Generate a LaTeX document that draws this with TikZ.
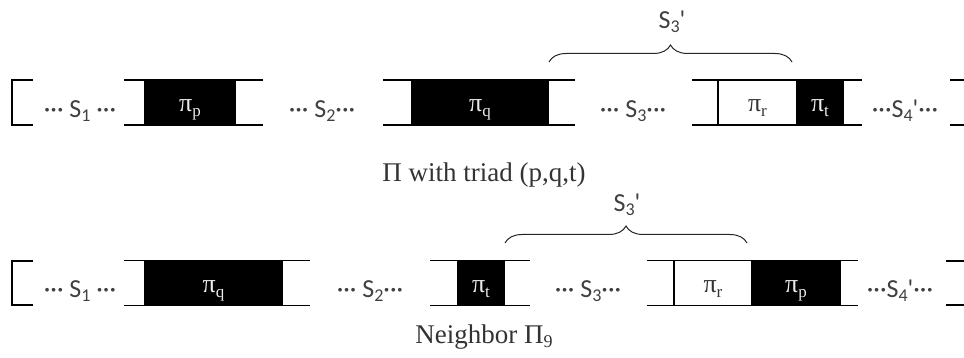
\documentclass[tikz,border=0pt]{standalone}
\usepackage{fontspec}
\setmainfont{Liberation Serif}
\newfontfamily\carl{Carlito}
\usetikzlibrary{decorations.pathreplacing}
\newcommand\pil[1]{π\raisebox{-5pt}{\fontsize{17}{20}\selectfont #1}}
\newcommand\ssub[1]{\raisebox{-4pt}{\fontsize{18}{20}\selectfont #1}}
\tikzset{
 seg/.style={line width=1.2pt, draw=black},
 blk/.style={draw=black, line width=1.2pt, fill=black, inner sep=0pt, outer sep=0pt, minimum height=45pt, anchor=west},
 wht/.style={draw=black, line width=1.2pt, fill=white, inner sep=0pt, outer sep=0pt, minimum height=45pt, anchor=west},
 slab/.style={font=\carl\fontsize{26}{30}\selectfont, text=black!75, anchor=base, inner sep=0pt},
 pilw/.style={font=\fontsize{26}{30}\selectfont, text=black!8, anchor=base, inner sep=0pt},
 pilb/.style={font=\fontsize{26}{30}\selectfont, text=black!80, anchor=base, inner sep=0pt},
 captxt/.style={font=\fontsize{27}{32}\selectfont, text=black!80, anchor=base, inner sep=0pt},
 brc/.style={decorate, decoration={brace, amplitude=17pt}, line width=1pt, draw=black!85},
}
\begin{document}
\begin{tikzpicture}[x=1pt,y=-1pt]
\useasboundingbox (0,0) rectangle (964,358);
% ---------- top row ----------
\node[blk, minimum width=90pt]  (pp) at (145,102.5) {};
\node[blk, minimum width=136pt] (pq) at (412,102.5) {};
\node[wht, minimum width=79pt]  (pr) at (718,102.5) {};
\node[blk, minimum width=46pt]  (pt) at (797,102.5) {};
\draw[seg] (33,80) -- (12,80) -- (12,125) -- (33,125);
\draw[seg] (pp.north west) -- ++(-21,0) (pp.south west) -- ++(-21,0);
\draw[seg] (pp.north east) -- ++(28,0) (pp.south east) -- ++(28,0);
\draw[seg] (pq.north west) -- ++(-29,0) (pq.south west) -- ++(-29,0);
\draw[seg] (pq.north east) -- ++(27,0) (pq.south east) -- ++(27,0);
\draw[seg] (pr.north west) -- ++(-26,0) (pr.south west) -- ++(-26,0);
\draw[seg] (pt.north east) -- ++(19,0) (pt.south east) -- ++(19,0);
\draw[seg] (950,80) -- (964,80) (950,125) -- (964,125);
\node[pilw] (lpp) at (pp.center |- 0,112) {\pil{p}};
\node[pilw] (lpq) at (pq.center |- 0,112) {\pil{q}};
\node[pilb] (lpr) at (pr.center |- 0,112) {\pil{r}};
\node[pilw] (lpt) at (pt.center |- 0,112) {\pil{t}};
\node[slab] (s1a) at (80,118) {··· S\ssub{1} ···};
\node[slab] (s2a) at (322,118) {··· S\ssub{2}···};
\node[slab] (s3a) at (633,118) {··· S\ssub{3}···};
\node[slab] (s4a) at (905,118) {···S\ssub{4}'···};
\coordinate (ba1) at (549,62);
\coordinate (ba2) at (792,62);
\draw[brc] (ba1) -- (ba2);
\node[slab] (s3pa) at (672,29) {S\ssub{3}'};
\node[captxt] (capa) at (484,182) {Π with triad (p,q,t)};
% ---------- bottom row ----------
\node[blk, minimum width=137pt] (qq) at (145,283) {};
\node[blk, minimum width=46pt]  (tt) at (458,283) {};
\node[wht, minimum width=78pt]  (rr) at (674,283) {};
\node[blk, minimum width=88pt]  (pp2) at (752,283) {};
\draw[seg] (33,261) -- (12,261) -- (12,305) -- (33,305);
\draw[seg] (qq.north west) -- ++(-21,0) (qq.south west) -- ++(-21,0);
\draw[seg] (qq.north east) -- ++(28,0) (qq.south east) -- ++(28,0);
\draw[seg] (tt.north west) -- ++(-28,0) (tt.south west) -- ++(-28,0);
\draw[seg] (tt.north east) -- ++(26,0) (tt.south east) -- ++(26,0);
\draw[seg] (rr.north west) -- ++(-27,0) (rr.south west) -- ++(-27,0);
\draw[seg] (pp2.north east) -- ++(18,0) (pp2.south east) -- ++(18,0);
\draw[seg] (946,261) -- (964,261) (946,305) -- (964,305);
\node[pilw] (lqq) at (qq.center |- 0,292) {\pil{q}};
\node[pilw] (ltt) at (tt.center |- 0,292) {\pil{t}};
\node[pilb] (lrr) at (rr.center |- 0,292) {\pil{r}};
\node[pilw] (lpp2) at (pp2.center |- 0,292) {\pil{p}};
\node[slab] (s1b) at (80,297) {··· S\ssub{1} ···};
\node[slab] (s2b) at (370,297) {··· S\ssub{2}···};
\node[slab] (s3b) at (588,297) {··· S\ssub{3}···};
\node[slab] (s4b) at (900,297) {···S\ssub{4}'···};
\coordinate (bb1) at (505,243);
\coordinate (bb2) at (747,243);
\draw[brc] (bb1) -- (bb2);
\node[slab] (s3pb) at (627,212) {S\ssub{3}'};
\node[captxt] (capb) at (484,343) {Neighbor Π\raisebox{-4pt}{\fontsize{18}{20}\selectfont 9}};
\end{tikzpicture}
\end{document}
